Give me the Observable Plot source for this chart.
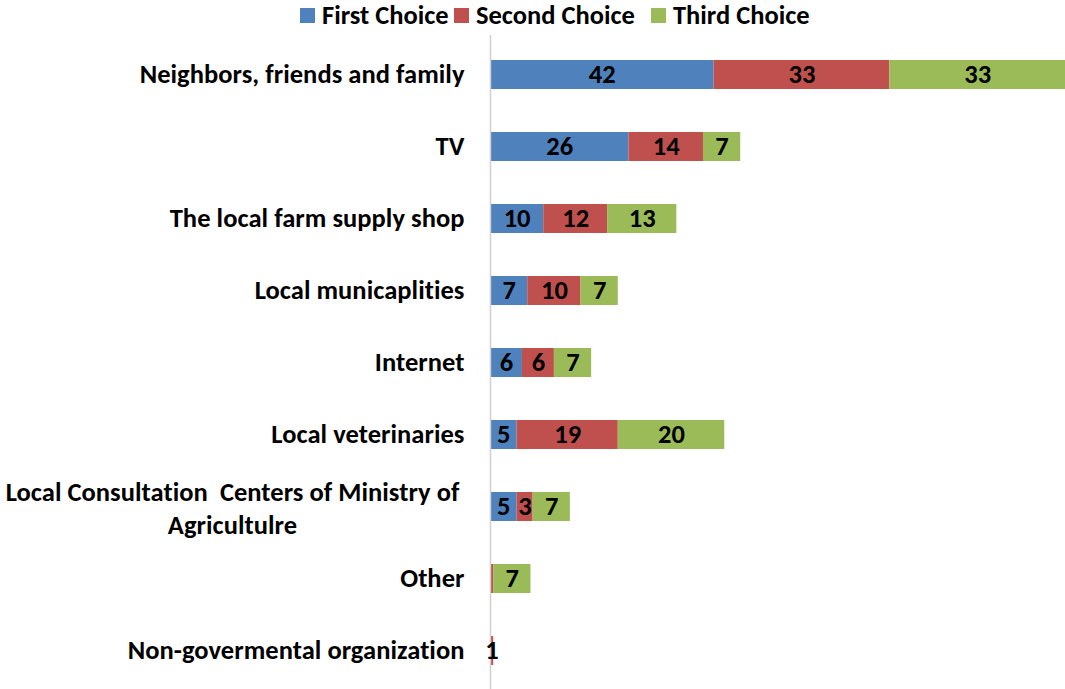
<!DOCTYPE html>
<html><head><meta charset="utf-8">
<script src="https://cdn.jsdelivr.net/npm/d3@7"></script>
<script src="https://cdn.jsdelivr.net/npm/@observablehq/plot@0.6"></script>
<style>
body{margin:0;background:#fff;font-family:Carlito,Calibri,"Liberation Sans",sans-serif;font-variant-ligatures:none;font-feature-settings:"liga" 0,"clig" 0;}
#wrap{position:relative;width:1065px;height:689px;}
#legend{position:absolute;top:0;left:0;width:1065px;height:32px;font-weight:bold;font-size:26.5px;color:#000;white-space:nowrap;}
.item{position:absolute;top:-1px;display:flex;align-items:center}
.sw{width:15px;height:15px;margin-right:7px}
#chart{position:absolute;top:0;left:0}
svg text, svg tspan{font-variant-ligatures:none !important;font-feature-settings:"liga" 0,"clig" 0 !important;letter-spacing:0.05px;}
</style></head><body><div id="wrap"><div id="chart"></div><div id="legend"></div></div>
<script>
const categories = ["Neighbors, friends and family","TV","The local farm supply shop","Local municaplities","Internet","Local veterinaries","Local Consultation  Centers of Ministry of\nAgricultulre","Other","Non-govermental organization"];
const series = ["First Choice","Second Choice","Third Choice"];
const colors = ["#4F81BD","#C0504D","#9BBB59"];
const firstChoice  = [42,26,10,7,6,5,5,0,0];
const secondChoice = [33,14,12,10,6,19,3,0.6,0.6];
const thirdChoice  = [33,7,13,7,7,20,7,7,0];
const firstLabels  = ["42","26","10","7","6","5","5","",""];
const secondLabels = ["33","14","12","10","6","19","3","","1"];
const thirdLabels  = ["33","7","13","7","7","20","7","7",""];

const vals = [firstChoice, secondChoice, thirdChoice];
const labs = [firstLabels, secondLabels, thirdLabels];
const rows = [];
categories.forEach((c, i) => series.forEach((s, j) => rows.push({category: c, series: s, value: vals[j][i], label: labs[j][i]})));

const multi = categories.filter(c => c.includes("\n"));
const single = categories.filter(c => !c.includes("\n"));
const font = "Carlito, Calibri, 'Liberation Sans', sans-serif";
const fs = 26.5;

const chart = Plot.plot({
  width: 1065, height: 689,
  marginLeft: 490, marginRight: 0, marginTop: 35, marginBottom: 0,
  style: {fontFamily: font, background: "#fff", fontVariantLigatures: "none", letterSpacing: "0.05px"},
  x: {domain: [0, 108], axis: null},
  y: {domain: categories, paddingInner: 0.6, paddingOuter: 0.3, axis: null},
  color: {domain: series, range: colors},
  marks: [
    Plot.barX(rows, {x: "value", y: "category", fill: "series", z: "series"}),
    Plot.ruleX([0], {stroke: "#d0d0d0", strokeWidth: 1.5}),
    Plot.text(rows, Plot.stackX({x: "value", y: "category", z: "series", text: "label", fontSize: fs, fontWeight: "bold", fill: "#000"})),
    Plot.text(single, {y: d => d, text: d => d, frameAnchor: "left", textAnchor: "end", dx: -26, fontSize: fs, fontWeight: "bold", fill: "#000"}),
    Plot.text(multi, {y: d => d, text: d => d, frameAnchor: "left", textAnchor: "middle", dx: -258, lineHeight: 1.25, fontSize: fs, fontWeight: "bold", fill: "#000"})
  ]
});
document.getElementById("chart").appendChild(chart);

const legendLeft = [300, 454, 651];
const lg = document.getElementById("legend");
series.forEach((s, j) => {
  const it = document.createElement("div"); it.className = "item"; it.style.left = legendLeft[j] + "px";
  const sw = document.createElement("div"); sw.className = "sw"; sw.style.background = colors[j];
  const tx = document.createElement("span"); tx.textContent = s;
  it.appendChild(sw); it.appendChild(tx); lg.appendChild(it);
});
</script></body></html>
